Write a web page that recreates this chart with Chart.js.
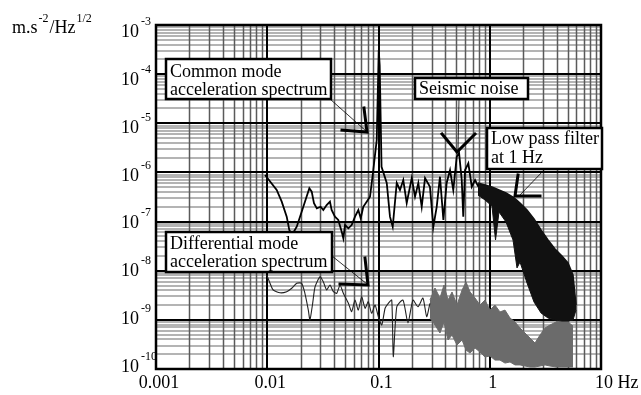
<!DOCTYPE html>
<html>
<head>
<meta charset="utf-8">
<script src="https://cdn.jsdelivr.net/npm/chart.js@4.4.0/dist/chart.umd.min.js"></script>
<style>
  html, body { margin: 0; background: #fff; }
  canvas { display: block; }
</style>
</head>
<body>
<canvas id="spectrumChart" width="641" height="395"></canvas>
<script>
/* ===== DATA ===== */
// common mode acceleration spectrum (m.s-2/Hz1/2), line part
const cmFreq = [
  0.00955, 0.01216, 0.01349, 0.01496, 0.01578, 0.01669, 0.01841, 0.0211,
  0.0239, 0.0251, 0.0263, 0.0279, 0.0302, 0.0319, 0.0342, 0.0366,
  0.0379, 0.0406, 0.0435, 0.0467, 0.0483, 0.05, 0.0536, 0.0574,
  0.0615, 0.0659, 0.0692, 0.073, 0.0783, 0.0839, 0.0898, 0.0964,
  0.1005, 0.1025, 0.1065, 0.1186, 0.1268, 0.1342, 0.1459, 0.156,
  0.167, 0.1793, 0.199, 0.213, 0.228, 0.2446, 0.262, 0.29,
  0.311, 0.3336, 0.357, 0.383, 0.41, 0.4395, 0.47, 0.505,
  0.53, 0.56, 0.578, 0.6, 0.642, 0.689, 0.738, 0.789,
];
const cmAccel = [
  8.85e-7, 4.39e-7, 2.54e-7, 1.26e-7, 6.73e-8, 5.33e-8, 7.85e-8, 2.0e-7,
  4.75e-7, 4.06e-7, 2.36e-7, 1.86e-7, 2.0e-7, 1.72e-7, 2.17e-7, 2.54e-7,
  1.72e-7, 1.26e-7, 1.08e-7, 6.22e-8, 4.56e-8, 8.51e-8, 7.29e-8, 8.51e-8,
  1.26e-7, 1.72e-7, 1.16e-7, 2.0e-7, 2.54e-7, 3.21e-7, 1.12e-6, 4.57e-6,
  3.1e-4, 1.5e-4, 1.3e-6, 6.09e-7, 1.26e-7, 7.85e-8, 6.09e-7, 4.39e-7,
  7.01e-7, 2.39e-7, 7.69e-7, 3.21e-7, 6.09e-7, 2.0e-7, 7.69e-7, 5.12e-7,
  7.85e-8, 2.0e-7, 8.18e-7, 1.08e-7, 6.09e-7, 1.12e-6, 4.39e-7, 2.09e-6,
  2.48e-6, 7.01e-7, 1.26e-7, 1.12e-6, 1.53e-6, 5.12e-7, 7.01e-7, 5.12e-7,
];

// common mode above 0.8 Hz: dense noise band, upper and lower edge
const cmBandFreq = [0.784, 0.9066, 1.047, 1.127, 1.211, 1.4, 1.619, 1.758, 1.871, 2.163, 2.5, 2.89, 3.34, 3.86, 4.46, 5.05, 5.6, 5.96];
const cmBandHigh = [6.09e-7, 5.55e-7, 5.05e-7, 4.7e-7, 4.39e-7, 3.81e-7, 3.16e-7, 2.7e-7, 2.39e-7, 1.72e-7, 1.13e-7, 6.73e-8, 4.22e-8, 2.77e-8, 1.99e-8, 1.44e-8, 8.17e-9, 2.0e-9];
const cmBandLow = [3.47e-7, 2.75e-7, 2.07e-7, 4.22e-8, 1.57e-7, 9.8e-8, 4.22e-8, 1.14e-8, 1.5e-8, 5.62e-9, 2.31e-9, 1.38e-9, 1.09e-9, 9.93e-10, 9.46e-10, 9.46e-10, 9.93e-10, 1.58e-9];

// differential mode acceleration spectrum, line part
const dmFreq = [
  0.00989, 0.01059, 0.01132, 0.01303, 0.01496, 0.0166, 0.0184, 0.0204,
  0.0218, 0.0234, 0.0242, 0.0256, 0.0269, 0.0298, 0.0319, 0.0342,
  0.0366, 0.0393, 0.0421, 0.0451, 0.0483, 0.0536, 0.0574, 0.0615,
  0.0658, 0.0706, 0.0757, 0.0809, 0.0868, 0.0931, 0.0996, 0.107,
  0.1146, 0.1225, 0.1315, 0.1358, 0.146, 0.166, 0.184, 0.204,
  0.2265, 0.251, 0.271, 0.29,
];
const dmAccel = [
  8.17e-9, 5.55e-9, 4.05e-9, 3.56e-9, 3.74e-9, 4.39e-9, 5.55e-9, 5.55e-9,
  3.47e-9, 1.58e-9, 9.93e-10, 2.17e-9, 4.72e-9, 7.55e-9, 5.97e-9, 4.05e-9,
  5.12e-9, 3.74e-9, 3.47e-9, 5.12e-9, 3.47e-9, 2.17e-9, 1.47e-9, 2.53e-9,
  1.58e-9, 2.96e-9, 1.72e-9, 2.34e-9, 1.36e-9, 2.0e-9, 1.16e-9, 7.85e-10,
  1.72e-9, 2.17e-9, 2.53e-9, 1.78e-10, 1.85e-9, 2.53e-9, 8.63e-10, 2.53e-9,
  1.85e-9, 2.78e-9, 1.16e-9, 2.17e-9,
];

// differential mode above 0.29 Hz (grey noise band)
const dmBandFreq = [
  0.29, 0.322, 0.357, 0.388, 0.422, 0.458, 0.508, 0.564, 0.612, 0.665,
  0.738, 0.817, 0.906, 1.005, 1.114, 1.236, 1.371, 1.521, 1.687, 1.871,
  2.075, 2.3, 2.55, 2.83, 3.14, 3.48, 3.94, 4.46, 5.05, 5.6,
];
const dmBandHigh = [
  2.53e-9, 4.45e-9, 2.78e-9, 5.12e-9, 2.53e-9, 3.69e-9, 2.0e-9, 4.05e-9, 5.89e-9, 3.69e-9,
  2.78e-9, 2.0e-9, 2.53e-9, 1.58e-9, 2.0e-9, 1.45e-9, 1.58e-9, 1.09e-9, 9.04e-10, 6.82e-10,
  5.4e-10, 4.27e-10, 3.38e-10, 4.91e-10, 6.82e-10, 7.85e-10, 9.04e-10, 1.09e-9, 9.04e-10, 7.5e-10,
];
const dmBandLow = [
  1.09e-9, 7.85e-10, 5.4e-10, 9.04e-10, 3.89e-10, 4.91e-10, 3.08e-10, 3.89e-10, 2.43e-10, 2.11e-10,
  2.67e-10, 2.22e-10, 1.75e-10, 1.84e-10, 1.52e-10, 1.52e-10, 1.32e-10, 1.39e-10, 1.21e-10, 1.21e-10,
  1.15e-10, 1.1e-10, 1.1e-10, 1.15e-10, 1.21e-10, 1.15e-10, 1.1e-10, 1.1e-10, 1.1e-10, 1.1e-10,
];

// axes
const xTicks = [0.001, 0.01, 0.1, 1, 10];
const xTickLabels = ["0.001", "0.01", "0.1", "1", "10 Hz"];
const yTickExps = [-3, -4, -5, -6, -7, -8, -9, -10];

const pts = (xs, ys) => xs.map((x, i) => ({ x, y: ys[i] }));

const SERIF = '"Liberation Serif", "Times New Roman", serif';

/* ===== GRID ===== */
const gridPlugin = {
  id: "logGrid",
  beforeDatasetsDraw(chart) {
    const { ctx, chartArea: a, scales } = chart;
    const { x, y } = scales;
    ctx.save();
    // minor horizontal
    ctx.strokeStyle = "#b4b4b4";
    ctx.lineWidth = 2;
    for (let e = -10; e < -3; e++) {
      for (let m = 2; m <= 9; m++) {
        const py = Math.round(y.getPixelForValue(m * Math.pow(10, e)));
        ctx.beginPath();
        ctx.moveTo(a.left, py);
        ctx.lineTo(a.right, py);
        ctx.stroke();
      }
    }
    // minor vertical
    ctx.strokeStyle = "#5a5a5a";
    ctx.lineWidth = 1.5;
    for (let e = -3; e < 1; e++) {
      for (let m = 2; m <= 9; m++) {
        const px = Math.round(x.getPixelForValue(m * Math.pow(10, e))) + 0.5;
        ctx.beginPath();
        ctx.moveTo(px, a.top);
        ctx.lineTo(px, a.bottom);
        ctx.stroke();
      }
    }
    // major lines
    ctx.strokeStyle = "#000";
    ctx.lineWidth = 2;
    yTickExps.forEach((e) => {
      const py = Math.round(y.getPixelForValue(Math.pow(10, e)));
      ctx.beginPath();
      ctx.moveTo(a.left, py);
      ctx.lineTo(a.right, py);
      ctx.stroke();
    });
    xTicks.forEach((v) => {
      const px = Math.round(x.getPixelForValue(v));
      ctx.beginPath();
      ctx.moveTo(px, a.top);
      ctx.lineTo(px, a.bottom);
      ctx.stroke();
    });
    ctx.restore();
  },
};

/* ===== FRAME, LABELS, NOTES ===== */
function note(ctx, box, lines, base) {
  const [x0, y0, x1, y1] = box;
  ctx.fillStyle = "#fff";
  ctx.fillRect(x0, y0, x1 - x0, y1 - y0);
  ctx.lineWidth = 2.5;
  ctx.strokeStyle = "#000";
  ctx.strokeRect(x0, y0, x1 - x0, y1 - y0);
  ctx.fillStyle = "#000";
  ctx.font = "18px " + SERIF;
  ctx.textAlign = "left";
  lines.forEach((t, i) => ctx.fillText(t, x0 + 4, base[i]));
}

function path(ctx, ptsList, w) {
  ctx.lineWidth = w;
  ctx.beginPath();
  ptsList.forEach(([px, py], i) => (i ? ctx.lineTo(px, py) : ctx.moveTo(px, py)));
  ctx.stroke();
}

const labelPlugin = {
  id: "labels",
  afterDatasetsDraw(chart) {
    const { ctx, chartArea: a, scales } = chart;
    const { x, y } = scales;
    ctx.save();
    ctx.strokeStyle = "#000";
    ctx.lineWidth = 2.5;
    ctx.strokeRect(a.left, a.top, a.right - a.left, a.bottom - a.top);

    // notes
    ctx.strokeStyle = "#000";
    ctx.lineCap = "square";
    path(ctx, [[330, 99], [366, 131]], 0.8);
    path(ctx, [[364, 108], [367, 132], [342, 130]], 3);
    note(ctx, [166, 59, 331, 99], ["Common mode", "acceleration spectrum"], [77, 95]);

    path(ctx, [[332, 256], [367, 284]], 0.8);
    path(ctx, [[365, 258], [368, 285], [340, 284]], 3);
    note(ctx, [166, 232, 332, 272], ["Differential mode", "acceleration spectrum"], [249, 267]);

    path(ctx, [[459, 99], [458, 152]], 0.8);
    path(ctx, [[442, 134], [457, 152], [475, 134]], 3);
    note(ctx, [415, 78, 528, 99], ["Seismic noise"], [94]);

    path(ctx, [[545, 169], [520, 195]], 0.8);
    path(ctx, [[518, 175], [515, 196], [540, 196]], 3);
    note(ctx, [487, 128, 602, 169], ["Low pass filter", "at 1 Hz"], [144, 163]);

    // x tick labels
    ctx.fillStyle = "#000";
    ctx.font = "18px " + SERIF;
    ctx.textAlign = "left";
    xTicks.forEach((v, i) => {
      const lab = xTickLabels[i];
      const w = ctx.measureText(lab.split(" ")[0]).width;
      ctx.fillText(lab, x.getPixelForValue(v) + 3 - w / 2, 388);
    });

    // y tick labels 10^n
    yTickExps.forEach((e) => {
      const py = y.getPixelForValue(Math.pow(10, e));
      const base = 37 + (py - a.top) * 0.974;
      ctx.font = "18px " + SERIF;
      ctx.textAlign = "right";
      ctx.fillText("10", 139, base);
      ctx.font = "12px " + SERIF;
      ctx.textAlign = "left";
      ctx.fillText(String(e), 141, base - 12);
    });

    // unit
    ctx.textAlign = "left";
    let ux = 12;
    [["m.s", 18, 33], ["-2", 12, 22], ["/Hz", 18, 33], ["1/2", 12, 22]].forEach(([t, s, b]) => {
      ctx.font = s + "px " + SERIF;
      ctx.fillText(t, ux, b);
      ux += ctx.measureText(t).width + 1;
    });
    ctx.restore();
  },
};

/* ===== CHART ===== */
new Chart(document.getElementById("spectrumChart"), {
  type: "line",
  data: {
    datasets: [
      { data: pts(dmBandFreq, dmBandHigh), borderColor: "#6b6b6b", borderWidth: 1, fill: false, order: 5 },
      { data: pts(dmBandFreq, dmBandLow), borderColor: "#6b6b6b", borderWidth: 1, backgroundColor: "#6b6b6b", fill: "-1", order: 5 },
      { data: pts(cmBandFreq, cmBandHigh), borderColor: "#111", borderWidth: 1.5, fill: false, order: 4 },
      { data: pts(cmBandFreq, cmBandLow), borderColor: "#111", borderWidth: 1, backgroundColor: "#111", fill: "-1", order: 4 },
      { data: pts(dmFreq, dmAccel), borderColor: "#222", borderWidth: 1.1, fill: false, tension: 0.2, order: 2 },
      { data: pts(cmFreq, cmAccel), borderColor: "#000", borderWidth: 1.8, fill: false, order: 1 },
    ],
  },
  options: {
    responsive: false,
    animation: false,
    layout: { padding: { left: 156, top: 25, right: 40, bottom: 26 } },
    plugins: { legend: { display: false }, tooltip: { enabled: false } },
    elements: { point: { radius: 0 }, line: { tension: 0 } },
    scales: {
      x: { type: "logarithmic", min: 0.001, max: 10, display: false },
      y: { type: "logarithmic", min: 1e-10, max: 1e-3, display: false },
    },
  },
  plugins: [gridPlugin, labelPlugin],
});
</script>
</body>
</html>
